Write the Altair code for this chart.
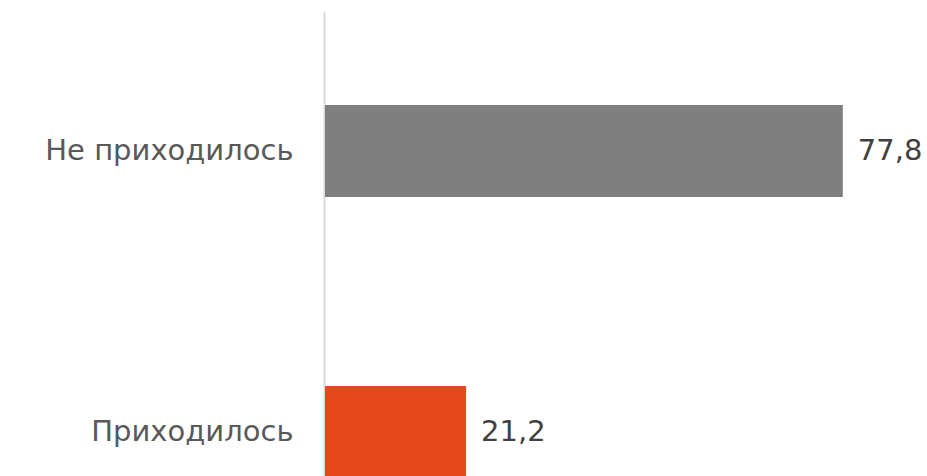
import altair as alt
import pandas as pd

categories = ["Не приходилось", "Приходилось"]
values = [77.8, 21.2]
labels = ["77,8", "21,2"]
colors = ["#7f7f7f", "#e4481c"]

df = pd.DataFrame({"cat": categories, "val": values, "lab": labels, "col": colors})

FONT = "DejaVu Sans"

y_enc = alt.Y(
    "cat:N",
    sort=categories,
    title=None,
    scale=alt.Scale(paddingInner=0.6726, paddingOuter=0.1673, align=1),
    axis=alt.Axis(
        domain=True,
        domainColor="#d9d9d9",
        domainWidth=2,
        offset=1,
        ticks=False,
        grid=False,
        labelFont=FONT,
        labelFontSize=29,
        labelColor="#595959",
        labelPadding=31,
        labelLimit=400,
    ),
)

x_enc = alt.X(
    "val:Q",
    title=None,
    scale=alt.Scale(domain=[0, 90], nice=False, zero=True),
    axis=None,
)

bars = alt.Chart(df).mark_bar().encode(
    y=y_enc,
    x=x_enc,
    color=alt.Color("col:N", scale=None, legend=None),
)

text = alt.Chart(df).mark_text(
    align="left", baseline="middle", dx=15, font=FONT, fontSize=29, color="#404040"
).encode(
    y=y_enc,
    x=x_enc,
    text="lab:N",
)

chart = (
    alt.layer(bars, text)
    .properties(
        width=599,
        height=467,
        autosize=alt.AutoSizeParams(type="none"),
        padding={"left": 325, "top": 11, "right": 0, "bottom": 0},
        view=alt.ViewBackground(strokeWidth=0, stroke="transparent"),
    )
    .configure_view(stroke="transparent", strokeWidth=0)
    .configure(background="white")
)

chart.save("out.html", embed_options={"renderer": "svg", "actions": False})
